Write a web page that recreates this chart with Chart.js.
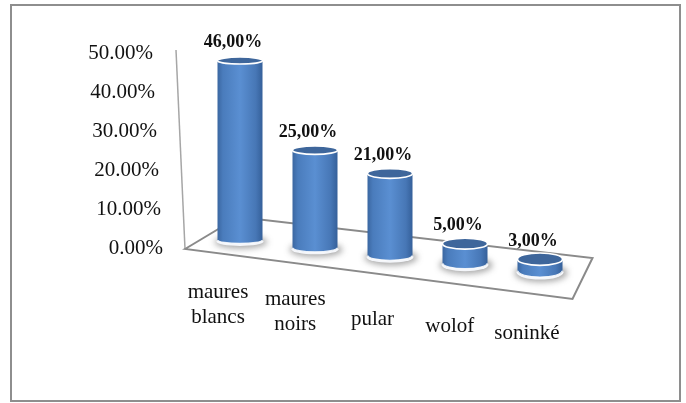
<!DOCTYPE html>
<html>
<head>
<meta charset="utf-8">
<script src="https://cdn.jsdelivr.net/npm/chart.js@4/dist/chart.umd.min.js"></script>
<style>
  html, body { margin: 0; padding: 0; background: #ffffff; }
  canvas { display: block; }
</style>
</head>
<body>
<canvas id="chart" width="686" height="403"></canvas>
<script>
// Ethnic groups and their shares
const categories = [["maures", "blancs"], ["maures", "noirs"], ["pular"], ["wolof"], ["soninké"]];
const shares = [0.46, 0.25, 0.21, 0.05, 0.03];
const valueLabels = ["46,00%", "25,00%", "21,00%", "5,00%", "3,00%"];
const tickValues = [0, 0.1, 0.2, 0.3, 0.4, 0.5];

const SERIF = '"Liberation Serif", "Times New Roman", serif';
// receding floor: bases drift downward to the right
const SLOPE = 0.103;
const PIVOT = 318;
const lift = x => SLOPE * (x - PIVOT);

function cylinder(ctx, x, top, base, rx, ry) {
  // soft shadow on the floor
  ctx.save();
  ctx.filter = 'blur(3px)';
  ctx.fillStyle = 'rgba(60,60,60,0.45)';
  ctx.beginPath();
  ctx.ellipse(x + 1, base + 2, rx + 4, ry + 3, 0, 0, Math.PI * 2);
  ctx.fill();
  ctx.restore();

  // white rim under the base
  ctx.save();
  ctx.fillStyle = '#f4f6fa';
  ctx.beginPath();
  ctx.ellipse(x, base + 1.5, rx + 1, ry + 1, 0, 0, Math.PI * 2);
  ctx.fill();
  ctx.restore();

  // body
  const g = ctx.createLinearGradient(x - rx, 0, x + rx, 0);
  g.addColorStop(0, '#3b67a1');
  g.addColorStop(0.12, '#4a7cbc');
  g.addColorStop(0.5, '#5a8fd2');
  g.addColorStop(0.85, '#4777b6');
  g.addColorStop(1, '#35609a');
  ctx.save();
  ctx.beginPath();
  ctx.moveTo(x - rx, top);
  ctx.lineTo(x - rx, base);
  ctx.ellipse(x, base, rx, ry, 0, Math.PI, 0, true);
  ctx.lineTo(x + rx, top);
  ctx.ellipse(x, top, rx, ry, 0, 0, Math.PI, false);
  ctx.closePath();
  ctx.fillStyle = g;
  ctx.fill();

  // lit edge along the base
  ctx.strokeStyle = 'rgba(255,255,255,0.85)';
  ctx.lineWidth = 1.2;
  ctx.beginPath();
  ctx.ellipse(x, base, rx - 0.5, ry, 0, Math.PI, 0, true);
  ctx.stroke();

  // lid
  ctx.beginPath();
  ctx.ellipse(x, top, rx, ry, 0, 0, Math.PI * 2);
  ctx.fillStyle = '#3e669b';
  ctx.fill();
  ctx.strokeStyle = '#ffffff';
  ctx.lineWidth = 1.6;
  ctx.stroke();
  ctx.restore();
}

const scenePlugin = {
  id: 'scene',
  beforeDraw(chart) {
    const { ctx, chartArea, scales } = chart;
    const y = scales.y;
    const y0 = y.getPixelForValue(0);
    const yTop = y.getPixelForValue(0.5);
    const L = chartArea.left;

    ctx.save();
    ctx.fillStyle = '#ffffff';
    ctx.fillRect(0, 0, chart.width, chart.height);

    // outer frame
    ctx.strokeStyle = '#8e8e8e';
    ctx.lineWidth = 2;
    ctx.strokeRect(11, 5, 669, 396);

    // value axis wall edge
    ctx.strokeStyle = '#a6a6a6';
    ctx.lineWidth = 1.5;
    ctx.beginPath();
    ctx.moveTo(L - 26.5, yTop - 3);
    ctx.lineTo(L - 17.5, y0 + 1);
    ctx.stroke();

    // floor
    ctx.strokeStyle = '#8a8a8a';
    ctx.lineWidth = 2;
    ctx.beginPath();
    ctx.moveTo(L - 17.5, y0 + 1);
    ctx.lineTo(L + 36, y0 - 31);
    ctx.lineTo(L + 390, y0 + 10);
    ctx.lineTo(L + 370, y0 + 51);
    ctx.closePath();
    ctx.stroke();

    // value ticks, leaning with the wall edge
    ctx.fillStyle = '#111111';
    ctx.font = '21px ' + SERIF;
    ctx.textAlign = 'right';
    ctx.textBaseline = 'middle';
    tickValues.forEach(v => {
      const py = y.getPixelForValue(v);
      ctx.fillText((v * 100).toFixed(2) + '%', 163 - 20 * v, py);
    });
    ctx.restore();
  },
  afterDatasetsDraw(chart) {
    const { ctx } = chart;
    const meta = chart.getDatasetMeta(0);
    meta.data.forEach((bar, i) => {
      const p = bar.getProps(['x', 'y', 'base', 'width'], true);
      const d = lift(p.x);
      const rx = p.width / 2;
      const ry = 3.5 + 0.009 * (p.x - 240);
      cylinder(ctx, p.x, p.y + d, p.base + d, rx, ry);

      // value label
      ctx.save();
      ctx.fillStyle = '#111111';
      ctx.font = 'bold 18px ' + SERIF;
      ctx.textAlign = 'center';
      ctx.textBaseline = 'middle';
      ctx.fillText(valueLabels[i], p.x - 7, p.y + d - 18);

      // category label along the floor's front edge
      ctx.font = '21px ' + SERIF;
      const lines = categories[i];
      const cx = p.x - 22 + 0.03 * (p.x - 240);
      const cy = 305 + 0.095 * (p.x - 240);
      const lh = 25;
      lines.forEach((t, k) => {
        ctx.fillText(t, cx, cy + (k - (lines.length - 1) / 2) * lh);
      });
      ctx.restore();
    });
  }
};

new Chart(document.getElementById('chart'), {
  type: 'bar',
  data: {
    labels: categories,
    datasets: [{
      data: shares,
      backgroundColor: 'rgba(0,0,0,0)',
      borderWidth: 0,
      barPercentage: 0.6,
      categoryPercentage: 1
    }]
  },
  options: {
    responsive: false,
    animation: false,
    devicePixelRatio: 1,
    layout: { padding: { left: 202.5, right: 108.5, top: 53, bottom: 155 } },
    plugins: { legend: { display: false }, tooltip: { enabled: false } },
    scales: {
      x: { type: 'category', display: false },
      y: { type: 'linear', min: 0, max: 0.5, display: false }
    }
  },
  plugins: [scenePlugin]
});
</script>
</body>
</html>
